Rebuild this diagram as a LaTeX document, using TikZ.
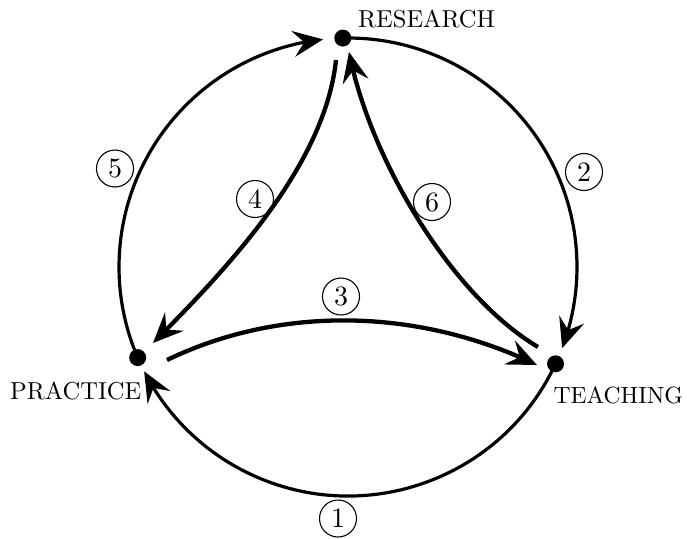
\documentclass[tikz,border=0pt]{standalone}
\usepackage{fontspec}
\setmainfont{lmroman10-regular}[Extension=.otf]
\usetikzlibrary{arrows.meta,calc,bending}
\begin{document}
\begin{tikzpicture}[x=1pt,y=1pt,
  dot/.style={circle,fill=black,inner sep=0pt,minimum size=17pt},
  outerarc/.style={line width=3.2pt},
  innerarrow/.style={line width=4.3pt},
  tip/.style={-{Stealth[length=30pt,width=26pt,inset=11pt]}},
  num/.style={circle,draw,line width=1.1pt,minimum size=37pt,inner sep=0pt,font=\fontsize{28}{30}\selectfont},
  lbl/.style={font=\fontsize{24.5}{28}\selectfont,inner sep=0pt,anchor=base west}]
\useasboundingbox (0,0) rectangle (687,-538);
\coordinate (O) at (348,-267);
\node[dot] (R) at ($(O)+(91.3:229)$) {};
\node[dot] (P) at ($(O)+(203.3:229)$) {};
\node[dot] (T) at ($(O)+(335:229)$) {};
\node[lbl] (lr) at (358,-27) {RESEARCH};
\node[lbl] (lp) at (10,-399) {PRACTICE};
\node[lbl,font=\fontsize{23.5}{28}\selectfont,anchor=base east] (lt) at (683,-403) {TEACHING};
% outer circle arcs
\draw[outerarc,tip] (P.center) arc[start angle=203.3,end angle=96.26,radius=229];
\draw[outerarc,tip] (R.center) arc[start angle=91.3,end angle=-20.75,radius=229];
\draw[outerarc,tip] (T.center) arc[start angle=335,end angle=207.1,radius=229];
% inner arrows
\coordinate (a4) at (336,-60);
\coordinate (b4) at (153,-343);
\draw[innerarrow,tip] (a4) .. controls (325,-165) and (228,-268) .. (b4);
\coordinate (a6) at (538,-347);
\coordinate (b6) at (349,-52);
\draw[innerarrow,tip] (a6) .. controls (452,-296) and (370,-160) .. (b6);
\coordinate (a3) at (167,-360);
\coordinate (b3) at (537,-365);
\draw[innerarrow,tip] (a3) .. controls (283,-304) and (421,-309) .. (b3);
% numbers
\node[num] (n1) at (338,-518.5) {1};
\node[num] (n2) at (584,-172) {2};
\node[num] (n3) at (341,-296.5) {3};
\node[num] (n4) at (255,-199) {4};
\node[num] (n5) at (115,-168.5) {5};
\node[num] (n6) at (432,-202) {6};
\end{tikzpicture}
\end{document}
